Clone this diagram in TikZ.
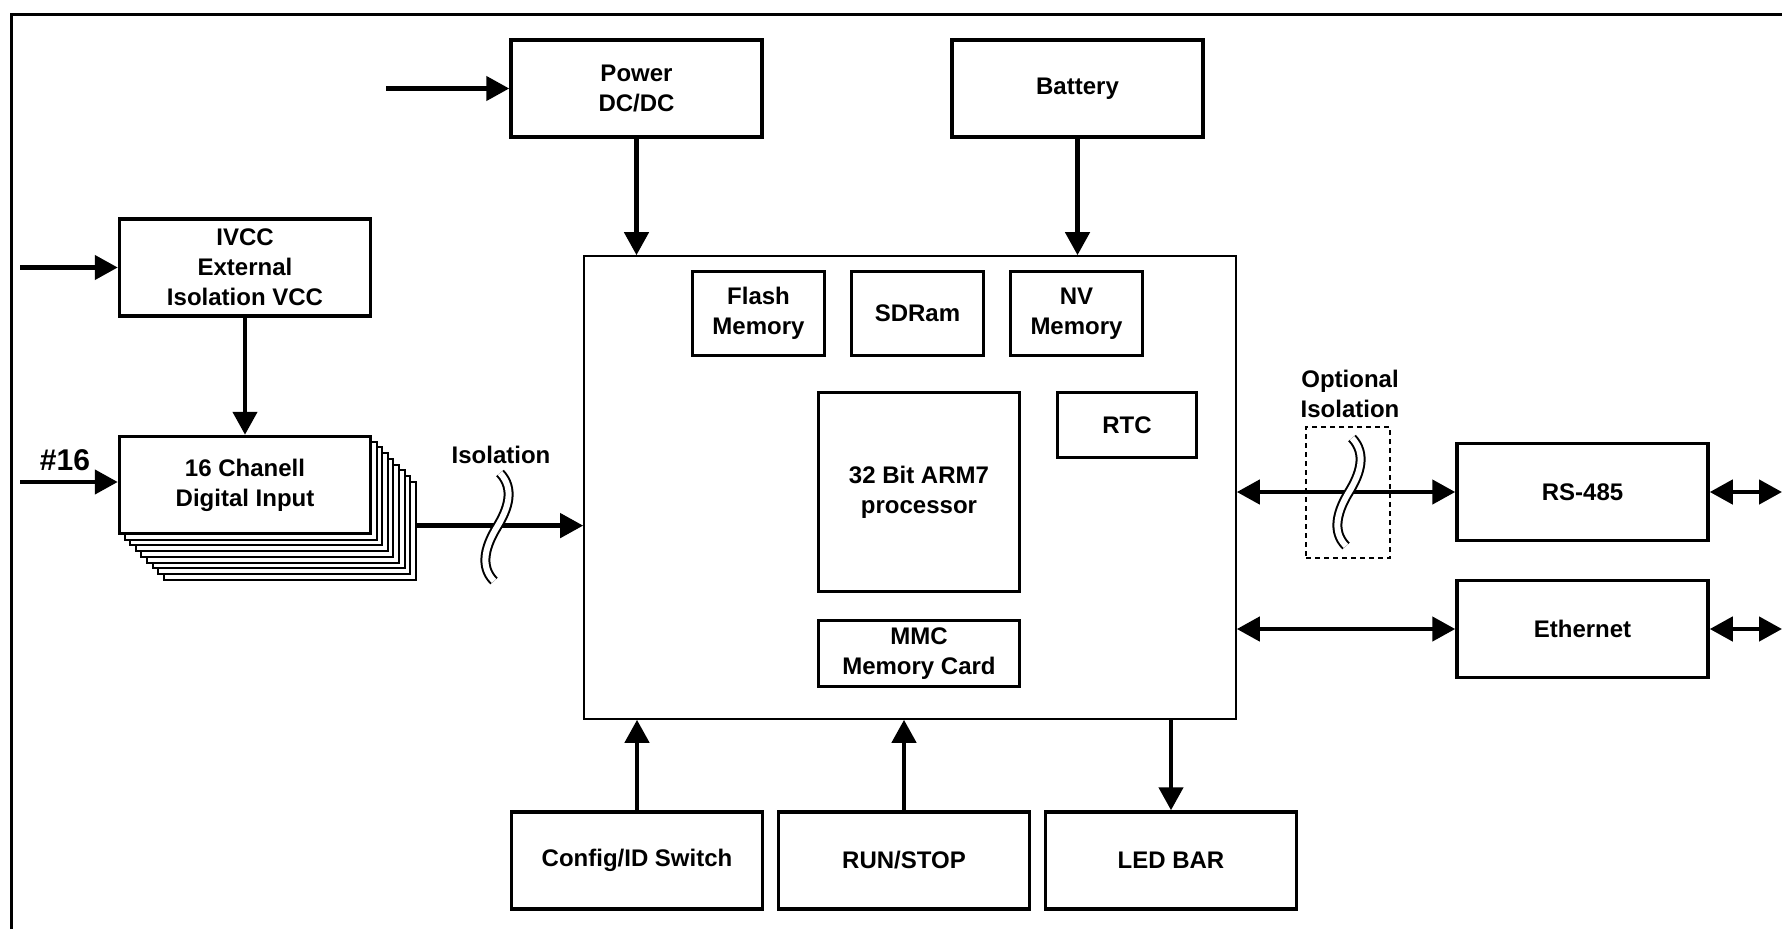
\documentclass[tikz,border=0pt]{standalone}
\usepackage{fontspec}
\setmainfont{Liberation Sans}
\usetikzlibrary{arrows.meta}

\begin{document}
\begin{tikzpicture}[
  x=1pt, y=-1pt,
  >={Triangle[length=23pt,width=24pt]},
  every node/.style={
    font=\fontsize{24}{30}\selectfont\bfseries
  },
  block/.style={
    draw, line width=3.5pt, fill=white, align=center,
    minimum width=251pt, minimum height=97pt
  },
  layer_block/.style={
    draw, line width=2pt, fill=white,
    minimum width=252pt, minimum height=98pt
  },
  cpu_block/.style={
    draw, line width=1.6pt, minimum width=652pt, minimum height=463pt
  },
  mem_block/.style={
    draw, line width=3pt, align=center,
    minimum width=132pt, minimum height=84pt
  },
  opt_box/.style={
    draw, line width=1.5pt, dash pattern=on 5pt off 4pt,
    minimum width=84pt, minimum height=131pt
  },
  link/.style={
    line width=4.5pt
  },
  break_mark/.style={
    line width=2pt, double=white, double distance=6pt
  }]
  %
  \useasboundingbox (0,0) rectangle (1782,929);
  \draw[line width=3pt] (11,929) -- (11,14) -- (1782,14);
  %
  \node[block] (power) at (636.5,88.5) {Power\\DC/DC};
  \node[block] (battery) at (1077.5,88.5) {Battery};
  \node[block] (ivcc) at (245,267.5) {IVCC\\External\\Isolation VCC};
  \foreach \k in {8,7,...,1} {
    \node[layer_block] (din_\k) at (245+5.6*\k,485+5.7*\k) {};
  }
  \node[block] (din) at (245,485) {16 Chanell\\Digital Input};
  %
  \node[cpu_block] (main) at (910,487.5) {};
  \node[mem_block] (flash) at (758.5,313.5) {Flash\\Memory};
  \node[mem_block] (sdram) at (917.5,313.5) {SDRam};
  \node[mem_block] (nvmem) at (1076.5,313.5) {NV\\Memory};
  \node[mem_block, minimum width=201pt, minimum height=199pt] (arm) at (919,492) {32 Bit ARM7\\processor};
  \node[mem_block, minimum width=139pt, minimum height=65pt] (rtc) at (1127,425) {RTC};
  \node[mem_block, minimum width=201pt, minimum height=66pt] (mmc) at (919,653.5) {MMC\\Memory Card};
  %
  \node[block] (rs485) at (1582.5,492) {RS-485};
  \node[block] (ether) at (1582.5,629) {Ethernet};
  \node[block] (config) at (637,860.5) {Config/ID Switch};
  \node[block] (runstop) at (904,860.5) {RUN/STOP};
  \node[block] (ledbar) at (1171,860.5) {LED BAR};
  %
  \node[opt_box] (opt_iso) at (1348,492.5) {};
  \node[align=center] (opt_label) at (1350,394) {Optional\\Isolation};
  \node (iso_label) at (501,455) {Isolation};
  \node[font=\fontsize{30}{36}\selectfont\bfseries] (ch_label) at (65,460) {\#16};
  %
  \coordinate (pwr_in) at (386,88.5);
  \coordinate (ivcc_in) at (20,267.5);
  \coordinate (din_in) at (20,482);
  \coordinate (rs_out) at (1782,492);
  \coordinate (eth_out) at (1782,629);
  %
  \draw[link,->] (pwr_in) -- (pwr_in -| power.west);
  \draw[link,->] (ivcc_in) -- (ivcc_in -| ivcc.west);
  \draw[link,->] (din_in) -- (din_in -| din.west);
  \draw[link,->] (ivcc) -- (din);
  \draw[link,->] (power) -- (power |- main.north);
  \draw[link,->] (battery) -- (battery |- main.north);
  \draw[link,->] ([yshift=5pt]din_8.east) -- ([yshift=5pt]din_8.east -| main.west);
  \draw[link,<->] (rs485.west -| main.east) -- (rs485);
  \draw[link,<->] (ether.west -| main.east) -- (ether);
  \draw[link,<->] (rs485) -- (rs_out);
  \draw[link,<->] (ether) -- (eth_out);
  \draw[link,->] (config) -- (config |- main.south);
  \draw[link,->] (runstop) -- (runstop |- main.south);
  \draw[link,->] (ledbar |- main.south) -- (ledbar);
  %
  \foreach \cx/\cy in {497/527, 1349/492} {
    \draw[break_mark] (\cx+3,\cy-54) .. controls (\cx+18,\cy-38) and (\cx+11,\cy-18) .. (\cx,\cy)
      .. controls (\cx-11,\cy+18) and (\cx-18,\cy+39) .. (\cx-3,\cy+54);
  }
\end{tikzpicture}
\end{document}
